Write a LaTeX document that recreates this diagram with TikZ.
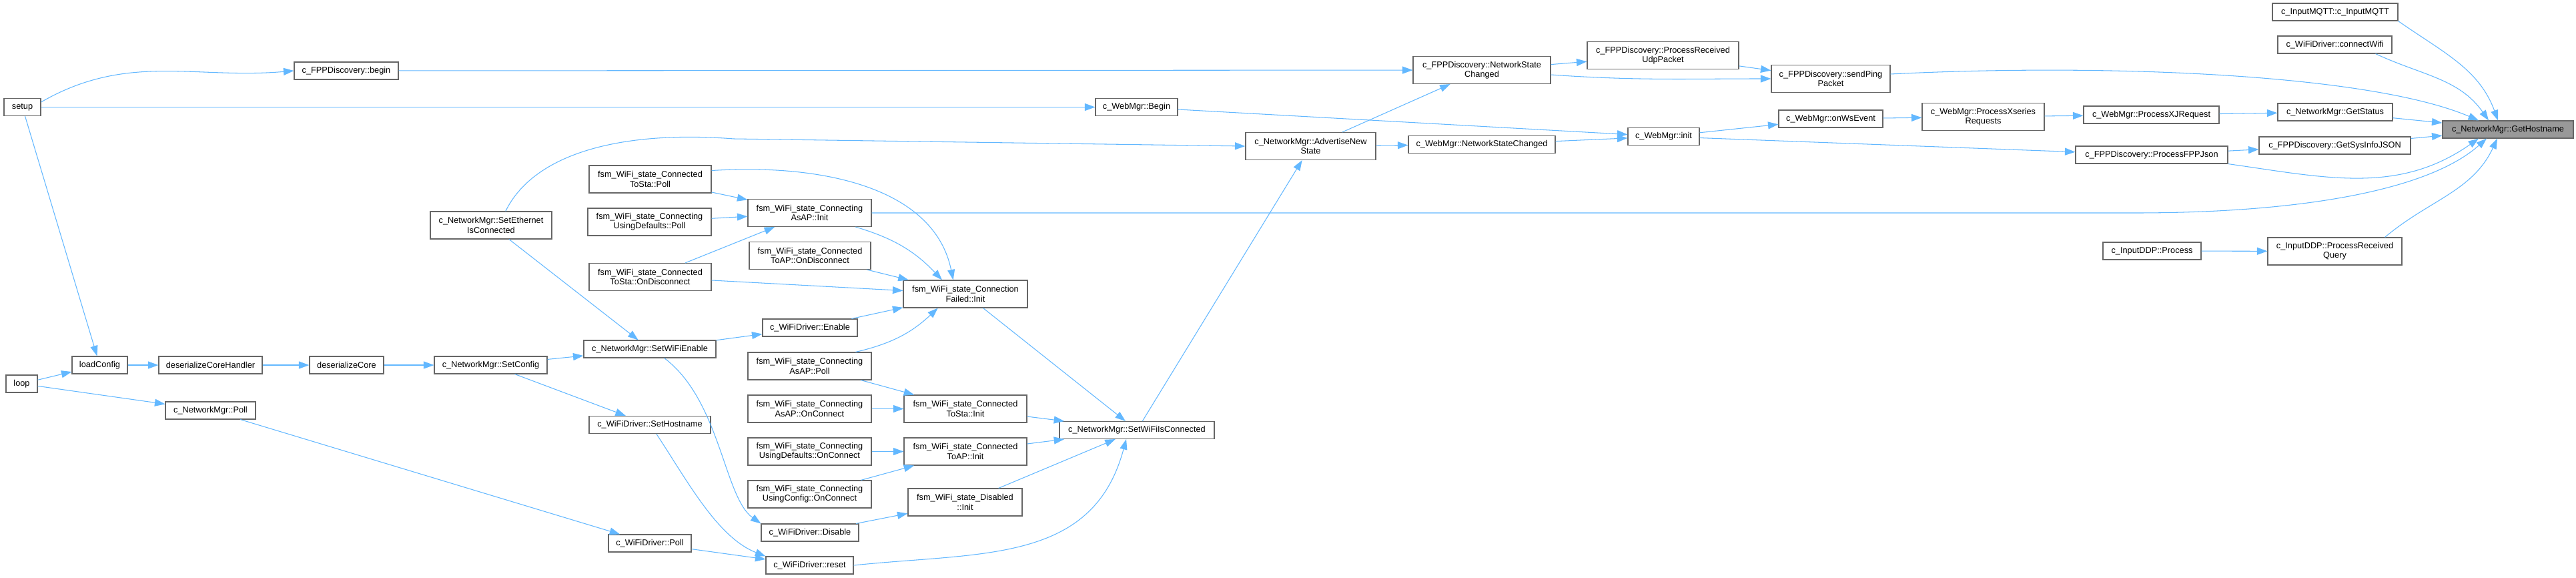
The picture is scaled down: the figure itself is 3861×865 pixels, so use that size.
\documentclass[tikz,border=0pt]{standalone}
\usepackage{fontspec}
\setmainfont{Liberation Sans}
\usetikzlibrary{arrows.meta}
\definecolor{edgec}{HTML}{63B8FF}
\definecolor{bordc}{HTML}{666666}
\definecolor{hlc}{HTML}{999999}
\tikzset{
 fn/.style={draw=bordc, fill=white, line width=1.1pt, minimum height=26pt, inner xsep=3pt, inner ysep=2pt, font=\fontsize{12.76}{14.3}\selectfont, align=center, text=black},
 fn2/.style={fn, minimum height=41pt},
 edge/.style={draw=edgec, line width=1.05pt, -{Triangle[length=15.5pt,width=11pt]}},
}
\begin{document}
\begin{tikzpicture}[x=1pt,y=1pt]
\fill[white] (0,0) rectangle (3861,-865);
\useasboundingbox (0,0) rectangle (3861,-865);
% nodes
\node[fn, minimum width=55pt] (setup) at (33.5,-160.5) {setup};
\node[fn, minimum width=156pt] (fppbegin) at (519,-106) {c\_FPPDiscovery::begin};
\node[fn, minimum width=123pt] (webbegin) at (1703.5,-160.5) {c\_WebMgr::Begin};
\node[fn, minimum width=83pt] (loadconfig) at (149.5,-547) {loadConfig};
\node[fn, minimum width=47pt] (loop) at (32.5,-575) {loop};
\node[fn, minimum width=155pt] (dch) at (315.5,-547) {deserializeCoreHandler};
\node[fn, minimum width=135pt] (nmpoll) at (315.5,-615) {c\_NetworkMgr::Poll};
\node[fn, minimum width=111pt] (dc) at (519.5,-547) {deserializeCore};
\node[fn, minimum width=169pt] (setconfig) at (735.5,-547) {c\_NetworkMgr::SetConfig};
\node[fn2, minimum width=182pt] (setether) at (736,-337.5) {c\_NetworkMgr::SetEthernet\\IsConnected};
\node[fn, minimum width=198pt] (setwifienable) at (974,-523) {c\_NetworkMgr::SetWiFiEnable};
\node[fn, minimum width=182pt] (sethostname) at (974,-636.5) {c\_WiFiDriver::SetHostname};
\node[fn, minimum width=124pt] (wdpoll) at (974,-814) {c\_WiFiDriver::Poll};
\node[fn2, minimum width=183pt] (tostapoll) at (974.5,-268.5) {fsm\_WiFi\_state\_Connected\\ToSta::Poll};
\node[fn2, minimum width=185pt] (usingdefpoll) at (973.5,-332.5) {fsm\_WiFi\_state\_Connecting\\UsingDefaults::Poll};
\node[fn2, minimum width=183pt] (tostaondis) at (974.5,-415) {fsm\_WiFi\_state\_Connected\\ToSta::OnDisconnect};
\node[fn2, minimum width=185pt] (asapinit) at (1213.5,-319) {fsm\_WiFi\_state\_Connecting\\AsAP::Init};
\node[fn2, minimum width=182pt] (toapondis) at (1214,-383) {fsm\_WiFi\_state\_Connected\\ToAP::OnDisconnect};
\node[fn, minimum width=142pt] (wdenable) at (1214,-491) {c\_WiFiDriver::Enable};
\node[fn2, minimum width=185pt] (asappoll) at (1213.5,-548.5) {fsm\_WiFi\_state\_Connecting\\AsAP::Poll};
\node[fn2, minimum width=185pt] (asaponconn) at (1213.5,-612.5) {fsm\_WiFi\_state\_Connecting\\AsAP::OnConnect};
\node[fn2, minimum width=185pt] (usingdefonconn) at (1213.5,-676.5) {fsm\_WiFi\_state\_Connecting\\UsingDefaults::OnConnect};
\node[fn2, minimum width=185pt] (usingcfgonconn) at (1213.5,-740.5) {fsm\_WiFi\_state\_Connecting\\UsingConfig::OnConnect};
\node[fn, minimum width=146pt] (wddisable) at (1214,-798) {c\_WiFiDriver::Disable};
\node[fn, minimum width=131pt] (wdreset) at (1213.5,-847) {c\_WiFiDriver::reset};
\node[fn2, minimum width=186pt] (connfailed) at (1447,-440.5) {fsm\_WiFi\_state\_Connection\\Failed::Init};
\node[fn2, minimum width=184pt] (tostainit) at (1447,-612.5) {fsm\_WiFi\_state\_Connected\\ToSta::Init};
\node[fn2, minimum width=184pt] (toapinit) at (1447,-676.5) {fsm\_WiFi\_state\_Connected\\ToAP::Init};
\node[fn2, minimum width=171pt] (disabledinit) at (1446.5,-752.5) {fsm\_WiFi\_state\_Disabled\\::Init};
\node[fn, minimum width=232pt] (setwifiisconn) at (1704,-644.5) {c\_NetworkMgr::SetWiFiIsConnected};
\node[fn2, minimum width=195pt] (advertise) at (1964.5,-219) {c\_NetworkMgr::AdvertiseNew\\State};
\node[fn2, minimum width=206pt] (fppnsc) at (2221,-105) {c\_FPPDiscovery::NetworkState\\Changed};
\node[fn, minimum width=220pt] (webnsc) at (2221,-216.5) {c\_WebMgr::NetworkStateChanged};
\node[fn2, minimum width=227pt] (udppacket) at (2492.5,-83) {c\_FPPDiscovery::ProcessReceived\\UdpPacket};
\node[fn, minimum width=107pt] (webinit) at (2493.5,-204.5) {c\_WebMgr::init};
\node[fn2, minimum width=178pt] (sendping) at (2744,-118) {c\_FPPDiscovery::sendPing\\Packet};
\node[fn, minimum width=156pt] (onws) at (2744,-178) {c\_WebMgr::onWsEvent};
\node[fn2, minimum width=183pt] (xseries) at (2972.5,-175) {c\_WebMgr::ProcessXseries\\Requests};
\node[fn, minimum width=203pt] (xjreq) at (3224.5,-172) {c\_WebMgr::ProcessXJRequest};
\node[fn, minimum width=228pt] (fppjson) at (3225,-232) {c\_FPPDiscovery::ProcessFPPJson};
\node[fn, minimum width=147pt] (ddpprocess) at (3225.5,-376) {c\_InputDDP::Process};
\node[fn, minimum width=188pt] (mqtt) at (3500,-18) {c\_InputMQTT::c\_InputMQTT};
\node[fn, minimum width=171pt] (connectwifi) at (3499.5,-67) {c\_WiFiDriver::connectWifi};
\node[fn, minimum width=172pt] (getstatus) at (3500,-168) {c\_NetworkMgr::GetStatus};
\node[fn, minimum width=227pt] (sysinfo) at (3499.5,-218) {c\_FPPDiscovery::GetSysInfoJSON};
\node[fn2, minimum width=201pt] (recvquery) at (3499.5,-376.5) {c\_InputDDP::ProcessReceived\\Query};
\node[fn, minimum width=196pt, fill=hlc] (gethostname) at (3759,-194) {c\_NetworkMgr::GetHostname};
% edges
\draw[edge] (setup.15) to[out=30,in=185] (fppbegin.west);
\draw[edge] (setup) -- (webbegin);
\draw[edge] (setup) -- (loadconfig);
\draw[edge] (loop) -- (loadconfig);
\draw[edge] (loop) -- (nmpoll);
\draw[edge] (loadconfig) -- (dch);
\draw[edge] (dch) -- (dc);
\draw[edge] (dc) -- (setconfig);
\draw[edge] (setconfig) -- (setwifienable);
\draw[edge] (setconfig) -- (sethostname);
\draw[edge] (nmpoll) -- (wdpoll);
\draw[edge] (setether) -- (setwifienable);
\draw[edge] (setether.44) .. controls (800,-230) and (930,-195) .. (1100,-208) -- (advertise.west);
\draw[edge] (setwifienable) -- (wdenable);
\draw[edge] (setwifienable.-32) .. controls (1080,-600) and (1085,-745) .. (wddisable.north west);
\draw[edge] (sethostname.-54) .. controls (1030,-720) and (1075,-805) .. (wdreset.north west);
\draw[edge] (wdpoll) -- (wdreset);
\draw[edge] (tostapoll) -- (asapinit);
\draw[edge] (tostapoll.8) .. controls (1230,-245) and (1400,-280) .. (connfailed.131);
\draw[edge] (usingdefpoll) -- (asapinit);
\draw[edge] (tostaondis) -- (asapinit);
\draw[edge] (tostaondis) -- (connfailed);
\draw[edge] (asapinit.-17) to[bend left=15] (connfailed.149);
\draw[edge] (asapinit.east) -- (3200,-319) .. controls (3450,-319) and (3640,-285) .. ([xshift=-32pt]gethostname.south);
\draw[edge] (toapondis) -- (connfailed);
\draw[edge] (wdenable) -- (connfailed);
\draw[edge] (asappoll.17) to[bend right=15] (connfailed.207);
\draw[edge] (asappoll) -- (tostainit);
\draw[edge] (asaponconn) -- (tostainit);
\draw[edge] (usingdefonconn) -- (toapinit);
\draw[edge] (usingcfgonconn) -- (toapinit);
\draw[edge] (wddisable) -- (disabledinit);
\draw[edge] (connfailed) -- (setwifiisconn);
\draw[edge] (tostainit) -- (setwifiisconn);
\draw[edge] (toapinit) -- (setwifiisconn);
\draw[edge] (disabledinit) -- (setwifiisconn);
\draw[edge] (wdreset.east) to[out=6,in=-105,looseness=1.1] ([xshift=-16pt]setwifiisconn.south);
\draw[edge] (setwifiisconn) -- (advertise);
\draw[edge] (fppbegin) -- (fppnsc);
\draw[edge] (advertise) -- (fppnsc);
\draw[edge] (advertise) -- (webnsc);
\draw[edge] (webbegin) -- (webinit);
\draw[edge] (webnsc) -- (webinit);
\draw[edge] (fppnsc) -- (udppacket);
\draw[edge] ([yshift=-7pt]fppnsc.east) to[out=-4,in=180] (sendping.west);
\draw[edge] (udppacket) -- (sendping);
\draw[edge] ([yshift=7pt]sendping.east) .. controls (3150,-95) and (3550,-110) .. ([xshift=-44pt]gethostname.north);
\draw[edge] (webinit) -- (onws);
\draw[edge] (webinit) -- (fppjson);
\draw[edge] (onws) -- (xseries);
\draw[edge] (xseries) -- (xjreq);
\draw[edge] (xjreq) -- (getstatus);
\draw[edge] (getstatus) -- (gethostname);
\draw[edge] (fppjson) -- (sysinfo);
\draw[edge] (sysinfo) -- (gethostname);
\draw[edge] (fppjson.south east) to[out=-8,in=-145] ([xshift=-44pt]gethostname.south);
\draw[edge] (ddpprocess) -- (recvquery);
\draw[edge] ([xshift=75pt]recvquery.north) to[out=40,in=-115] ([xshift=-16pt]gethostname.south);
\draw[edge] (mqtt.south east) to[out=-35,in=110] ([xshift=-15pt]gethostname.north);
\draw[edge] ([xshift=61pt]connectwifi.south) to[out=-25,in=125] ([xshift=-29pt]gethostname.north);
\end{tikzpicture}
\end{document}
